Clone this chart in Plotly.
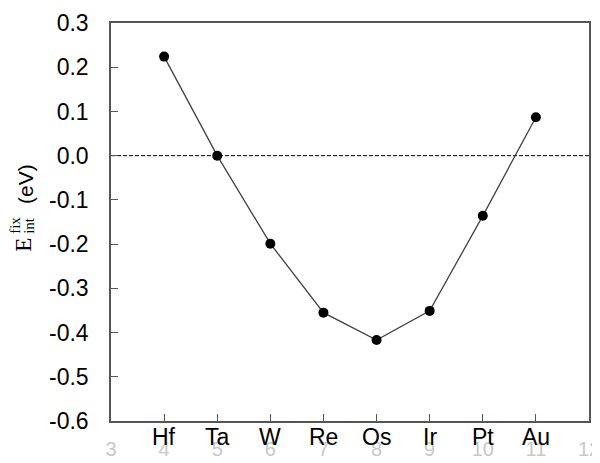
import plotly.graph_objects as go

# Data
elements = ["Hf", "Ta", "W", "Re", "Os", "Ir", "Pt", "Au"]
group_number = [4, 5, 6, 7, 8, 9, 10, 11]
e_int_fix = [0.224, 0.0, -0.199, -0.355, -0.417, -0.351, -0.136, 0.087]
x_tick_vals = [3, 4, 5, 6, 7, 8, 9, 10, 11, 12]
y_tick_vals = [0.3, 0.2, 0.1, 0.0, -0.1, -0.2, -0.3, -0.4, -0.5, -0.6]
y_tick_text = ["0.3", "0.2", "0.1", "0.0", "-0.1", "-0.2", "-0.3", "-0.4", "-0.5", "-0.6"]

OFF = 8  # default page body margin
W, H = 600 - OFF, 463 - OFF
# plot area in page pixels
L, R, T, B = 110.5, 589, 22.5, 421

def px(xp):
    return (xp - L) / (R - L)

def py(yp):
    return (B - yp) / (B - T)

fig = go.Figure()
fig.add_trace(go.Scatter(
    x=group_number, y=e_int_fix, mode="lines+markers",
    line=dict(color="#404040", width=1.3),
    marker=dict(color="black", size=10),
    showlegend=False, cliponaxis=False,
))

fig.add_shape(type="line", xref="paper", yref="y", x0=0, x1=1, y0=0, y1=0,
              line=dict(color="black", width=1, dash="4px,2px"), layer="below")

for el, g in zip(elements, group_number):
    fig.add_annotation(x=g, xref="x", y=py(437), yref="paper", text=el,
                       showarrow=False, xanchor="center", yanchor="middle",
                       font=dict(family="Liberation Sans, Arial", size=23, color="black"))

serif = "Liberation Serif, Times New Roman"
fig.add_annotation(x=px(23), y=py(245), xref="paper", yref="paper", text="E",
                   textangle=-90, showarrow=False, xanchor="center", yanchor="middle",
                   font=dict(family=serif, size=23, color="black"))
fig.add_annotation(x=px(15), y=py(225), xref="paper", yref="paper", text="fix",
                   textangle=-90, showarrow=False, xanchor="center", yanchor="middle",
                   font=dict(family=serif, size=15, color="black"))
fig.add_annotation(x=px(29), y=py(225), xref="paper", yref="paper", text="int",
                   textangle=-90, showarrow=False, xanchor="center", yanchor="middle",
                   font=dict(family=serif, size=15, color="black"))
fig.add_annotation(x=px(25), y=py(184), xref="paper", yref="paper", text="(eV)",
                   textangle=-90, showarrow=False, xanchor="center", yanchor="middle",
                   font=dict(family="Liberation Sans, Arial", size=21, color="black"))

fig.update_xaxes(range=[3, 12], tickvals=x_tick_vals, ticks="inside", ticklen=7,
                 tickcolor="#555", tickwidth=1.3, showline=True, linecolor="#555",
                 linewidth=1.5, mirror=True, showgrid=False, zeroline=False,
                 tickfont=dict(family="Liberation Sans, Arial", size=20, color="#c8c8c8"),
                 ticklabelstandoff=9, automargin=False, ticklabeloverflow="allow")
fig.update_yaxes(range=[-0.6, 0.3], tickvals=y_tick_vals, ticktext=y_tick_text,
                 ticks="inside", ticklen=7, tickcolor="#555", tickwidth=1.3,
                 showline=True, linecolor="#555", linewidth=1.5, mirror=True,
                 showgrid=False, zeroline=False,
                 tickfont=dict(family="Liberation Sans, Arial", size=23, color="black"),
                 ticklabelstandoff=16, automargin=False)

fig.update_layout(width=W, height=H,
                  margin=dict(l=L - OFF, r=600 - R, t=T - OFF, b=463 - B),
                  paper_bgcolor="white", plot_bgcolor="white")
fig.write_html("out.html")
